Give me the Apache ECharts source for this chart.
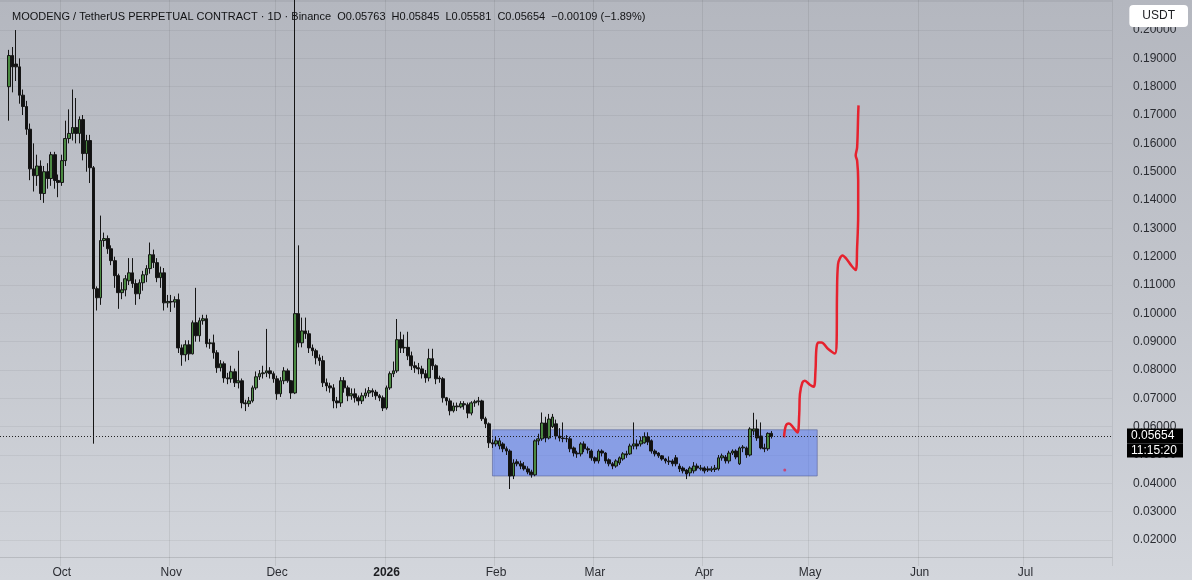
<!DOCTYPE html>
<html>
<head>
<meta charset="utf-8">
<script src="https://cdn.jsdelivr.net/npm/echarts@6/dist/echarts.min.js"></script>
<style>
  html, body { margin: 0; padding: 0; background: #fff; }
  #chart { width: 1192px; height: 580px; background: linear-gradient(180deg, #b4b7bf 0%, #c2c5cc 50%, #d3d6dc 100%); }
</style>
</head>
<body>
<div id="chart"></div>
<script>
// MOODENG / USDT 日线
var firstDay = '2025-09-14';     // 横轴第一天
var dayCount = 315;              // 到 2026-07-25
var firstCandle = 2;             // 2025-09-16

var tickDates = ['2025-10-01', '2025-11-01', '2025-12-01', '2026-01-01', '2026-02-01',
  '2026-03-01', '2026-04-01', '2026-05-01', '2026-06-01', '2026-07-01'];
var tickLabels = ['Oct', 'Nov', 'Dec', '2026', 'Feb', 'Mar', 'Apr', 'May', 'Jun', 'Jul'];

// [open, close, low, high]
var ohlc = [
  [0.180, 0.191, 0.168, 0.193], [0.191, 0.187, 0.178, 0.194], [0.188, 0.187, 0.182, 0.200],
  [0.187, 0.177, 0.174, 0.190], [0.177, 0.173, 0.170, 0.179], [0.173, 0.165, 0.163, 0.175],
  [0.165, 0.151, 0.147, 0.167], [0.151, 0.1486, 0.143, 0.160], [0.1486, 0.152, 0.145, 0.156],
  [0.152, 0.1423, 0.140, 0.154], [0.1423, 0.150, 0.139, 0.152], [0.150, 0.1476, 0.144, 0.153],
  [0.1476, 0.156, 0.145, 0.157], [0.156, 0.1469, 0.144, 0.157], [0.1469, 0.1462, 0.141, 0.149],
  [0.1462, 0.1539, 0.145, 0.156], [0.1539, 0.1617, 0.152, 0.168], [0.1617, 0.1635, 0.160, 0.172],
  [0.1635, 0.1656, 0.161, 0.179], [0.1656, 0.1635, 0.160, 0.176], [0.1635, 0.1684, 0.160, 0.1695],
  [0.1684, 0.1564, 0.154, 0.170], [0.1564, 0.161, 0.150, 0.163], [0.161, 0.1514, 0.146, 0.163],
  [0.1514, 0.1087, 0.054, 0.152],
  [0.1087, 0.1055, 0.101, 0.1095], [0.1055, 0.1257, 0.103, 0.1345], [0.1257, 0.1264, 0.1235, 0.1285],
  [0.1264, 0.1228, 0.121, 0.1275], [0.1228, 0.1186, 0.117, 0.124], [0.1186, 0.1133, 0.109, 0.120],
  [0.1133, 0.1073, 0.1016, 0.114], [0.1073, 0.1083, 0.105, 0.111], [0.1083, 0.1122, 0.106, 0.1135],
  [0.1115, 0.1143, 0.110, 0.1195], [0.1143, 0.1105, 0.109, 0.1195], [0.1105, 0.1069, 0.103, 0.112],
  [0.1069, 0.1108, 0.105, 0.112], [0.1108, 0.1136, 0.108, 0.115], [0.1136, 0.1158, 0.111, 0.117],
  [0.1158, 0.1207, 0.114, 0.125], [0.1207, 0.1179, 0.116, 0.1225], [0.1179, 0.1126, 0.111, 0.1195],
  [0.1126, 0.1143, 0.109, 0.1165], [0.1143, 0.1037, 0.101, 0.116], [0.1037, 0.1042, 0.102, 0.1065],
  [0.1042, 0.1040, 0.1005, 0.1065], [0.1040, 0.1048, 0.102, 0.106], [0.1048, 0.0878, 0.086, 0.107],
  [0.0878, 0.0854, 0.0815, 0.089], [0.0854, 0.0889, 0.083, 0.0905], [0.0889, 0.0857, 0.0835, 0.0905],
  [0.0857, 0.0967, 0.0855, 0.0975], [0.0967, 0.0921, 0.090, 0.109], [0.0921, 0.0974, 0.090, 0.0985],
  [0.0974, 0.0981, 0.096, 0.0995], [0.0981, 0.0893, 0.088, 0.0995], [0.0893, 0.0896, 0.0875, 0.091],
  [0.0896, 0.0861, 0.084, 0.0925], [0.0861, 0.0808, 0.079, 0.087], [0.0808, 0.0822, 0.0795, 0.0835],
  [0.0822, 0.0772, 0.0755, 0.083], [0.0772, 0.0769, 0.075, 0.079], [0.0769, 0.0794, 0.0755, 0.0815],
  [0.0794, 0.0755, 0.074, 0.0805], [0.0755, 0.0762, 0.0735, 0.0868], [0.0762, 0.0684, 0.0665, 0.077],
  [0.0684, 0.0681, 0.0655, 0.0695], [0.0681, 0.0691, 0.067, 0.0705], [0.0691, 0.0737, 0.0685, 0.0745],
  [0.0737, 0.0776, 0.073, 0.0795], [0.0776, 0.0787, 0.0765, 0.080], [0.0787, 0.0790, 0.077, 0.0815],
  [0.0790, 0.0797, 0.0775, 0.0945], [0.0797, 0.0787, 0.077, 0.081], [0.0787, 0.0769, 0.0755, 0.0795],
  [0.0769, 0.0716, 0.0695, 0.078], [0.0716, 0.0762, 0.0705, 0.0775], [0.0762, 0.0797, 0.075, 0.081],
  [0.0797, 0.0762, 0.0755, 0.0805], [0.0762, 0.0719, 0.0698, 0.0765], [0.0719, 0.0999, 0.0715, 0.26],
  [0.0999, 0.0896, 0.088, 0.124], [0.0896, 0.0938, 0.088, 0.0985], [0.0938, 0.0928, 0.091, 0.0985],
  [0.0928, 0.0878, 0.086, 0.094], [0.0878, 0.0868, 0.085, 0.089], [0.0868, 0.0843, 0.082, 0.0875],
  [0.0843, 0.0833, 0.0815, 0.0855], [0.0833, 0.0755, 0.074, 0.085], [0.0755, 0.0744, 0.0725, 0.077],
  [0.0744, 0.0737, 0.072, 0.0755], [0.0737, 0.0691, 0.0665, 0.075], [0.0691, 0.0684, 0.0665, 0.0705],
  [0.0684, 0.0762, 0.067, 0.0775], [0.0762, 0.0737, 0.072, 0.0775], [0.0737, 0.0709, 0.069, 0.0745],
  [0.0709, 0.0716, 0.0695, 0.0735], [0.0716, 0.0702, 0.0685, 0.0735], [0.0702, 0.0691, 0.0675, 0.071],
  [0.0691, 0.0709, 0.068, 0.072], [0.0709, 0.0719, 0.070, 0.0735], [0.0719, 0.0727, 0.0705, 0.074],
  [0.0727, 0.0722, 0.0705, 0.0735], [0.0722, 0.0709, 0.0695, 0.073], [0.0709, 0.0702, 0.069, 0.0715],
  [0.0702, 0.0666, 0.0655, 0.071], [0.0666, 0.0737, 0.066, 0.0745], [0.0737, 0.0787, 0.073, 0.0795],
  [0.0787, 0.0797, 0.0775, 0.083], [0.0797, 0.0907, 0.079, 0.098], [0.0907, 0.0878, 0.086, 0.0935],
  [0.0878, 0.0880, 0.086, 0.0925], [0.0880, 0.0850, 0.0835, 0.0935], [0.0850, 0.0815, 0.080, 0.0865],
  [0.0815, 0.0808, 0.079, 0.083], [0.0808, 0.0804, 0.0785, 0.0825], [0.0804, 0.0787, 0.077, 0.0815],
  [0.0787, 0.0772, 0.0755, 0.080], [0.0772, 0.0840, 0.076, 0.0875], [0.0840, 0.0815, 0.080, 0.0875],
  [0.0815, 0.0769, 0.075, 0.082], [0.0772, 0.0769, 0.0755, 0.078], [0.0769, 0.0702, 0.0685, 0.0775],
  [0.0702, 0.0691, 0.0675, 0.0705], [0.0691, 0.0656, 0.064, 0.070], [0.0656, 0.0673, 0.065, 0.0685],
  [0.0673, 0.0670, 0.0655, 0.0685], [0.0670, 0.0681, 0.0665, 0.069], [0.0681, 0.0677, 0.066, 0.069],
  [0.0677, 0.0648, 0.063, 0.0685], [0.0648, 0.0684, 0.064, 0.069], [0.0684, 0.0688, 0.067, 0.0695],
  [0.0688, 0.0691, 0.0675, 0.0705], [0.0691, 0.0628, 0.062, 0.0695], [0.0628, 0.0610, 0.0595, 0.0635],
  [0.0610, 0.0543, 0.0525, 0.0615], [0.0543, 0.0539, 0.0525, 0.0555], [0.0539, 0.0550, 0.053, 0.0565],
  [0.0532, 0.0550, 0.052, 0.056], [0.0539, 0.0522, 0.051, 0.0545], [0.0522, 0.0514, 0.050, 0.053],
  [0.0514, 0.0426, 0.038, 0.052],
  [0.0426, 0.0472, 0.0415, 0.0485], [0.0476, 0.0469, 0.046, 0.0485], [0.0469, 0.0461, 0.045, 0.048],
  [0.0461, 0.0451, 0.0445, 0.0475], [0.0451, 0.0440, 0.0432, 0.046], [0.0440, 0.0430, 0.042, 0.0448],
  [0.0430, 0.0550, 0.0425, 0.0555], [0.0550, 0.0557, 0.0535, 0.0575], [0.0557, 0.0613, 0.055, 0.065],
  [0.0613, 0.0560, 0.0545, 0.0635], [0.0560, 0.0627, 0.0555, 0.0645], [0.0600, 0.0634, 0.0595, 0.0645],
  [0.0610, 0.0567, 0.0555, 0.0625], [0.0567, 0.0560, 0.0548, 0.0595], [0.0560, 0.0558, 0.0545, 0.0615],
  [0.0558, 0.0557, 0.0545, 0.057], [0.0557, 0.0522, 0.051, 0.0565], [0.0525, 0.0507, 0.0495, 0.053],
  [0.0507, 0.0504, 0.049, 0.0515], [0.0504, 0.0539, 0.0495, 0.0545], [0.0539, 0.0522, 0.051, 0.0548],
  [0.0522, 0.0518, 0.0505, 0.053], [0.0514, 0.0490, 0.048, 0.052], [0.0490, 0.0479, 0.047, 0.0495],
  [0.0479, 0.0514, 0.047, 0.052], [0.0514, 0.0507, 0.0495, 0.052], [0.0507, 0.0479, 0.047, 0.051],
  [0.0483, 0.0469, 0.046, 0.0488], [0.0469, 0.0461, 0.045, 0.0475], [0.0461, 0.0479, 0.0455, 0.0485],
  [0.0472, 0.0490, 0.0465, 0.0495], [0.0486, 0.0504, 0.048, 0.051], [0.0504, 0.0500, 0.049, 0.0515],
  [0.0504, 0.0532, 0.050, 0.054], [0.0532, 0.0539, 0.052, 0.0615], [0.0539, 0.0532, 0.052, 0.0555],
  [0.0539, 0.0550, 0.053, 0.0565], [0.0543, 0.0564, 0.054, 0.058], [0.0564, 0.0546, 0.0535, 0.058],
  [0.0550, 0.0514, 0.0505, 0.0555], [0.0514, 0.0504, 0.0495, 0.052], [0.0507, 0.0497, 0.049, 0.051],
  [0.0497, 0.0486, 0.048, 0.050], [0.0486, 0.0479, 0.047, 0.049], [0.0479, 0.0476, 0.0465, 0.0495],
  [0.0479, 0.0469, 0.046, 0.0485], [0.0490, 0.0469, 0.046, 0.050], [0.0461, 0.0451, 0.044, 0.047],
  [0.0454, 0.0444, 0.0435, 0.046], [0.0447, 0.0433, 0.0415, 0.045], [0.0437, 0.0454, 0.0425, 0.046],
  [0.0444, 0.0461, 0.0435, 0.0475], [0.0461, 0.0454, 0.0445, 0.047], [0.0451, 0.0454, 0.0445, 0.0465],
  [0.0454, 0.0444, 0.0435, 0.046], [0.0451, 0.0447, 0.044, 0.046], [0.0447, 0.0451, 0.044, 0.046],
  [0.0449, 0.0454, 0.044, 0.0465], [0.0451, 0.0490, 0.0445, 0.050], [0.0490, 0.0497, 0.048, 0.0505],
  [0.0493, 0.0479, 0.047, 0.050], [0.0479, 0.0507, 0.047, 0.0515], [0.0507, 0.0514, 0.050, 0.052],
  [0.0514, 0.0493, 0.0485, 0.052], [0.0469, 0.0525, 0.0465, 0.053], [0.0525, 0.0528, 0.051, 0.0535],
  [0.0525, 0.0500, 0.049, 0.053], [0.0500, 0.0592, 0.0495, 0.0598], [0.0585, 0.0592, 0.057, 0.0649],
  [0.0592, 0.0560, 0.055, 0.0625], [0.0567, 0.0525, 0.052, 0.0615], [0.0525, 0.0522, 0.051, 0.054],
  [0.0522, 0.05763, 0.0515, 0.058], [0.05763, 0.05654, 0.05581, 0.05845]
];

// 蓝色区间
var boxFrom = '2026-01-31', boxTo = '2026-05-03';
var boxTop = 0.0589, boxBottom = 0.0426;

// 红色手绘预测线 (天数从 firstDay 起算, 价格)
var projDay = [221.6, 222.1, 223.0, 224.2, 225.4, 225.9, 226.1, 226.8, 227.5, 228.9, 230.0, 230.5,
  230.8, 231.4, 232.2, 234.1, 236.0, 236.5, 236.6, 236.9, 238.2, 239.3, 240.7, 241.9, 242.3,
  242.6, 242.6, 242.3, 241.9, 242.3, 242.6, 242.7];
var projPrice = [0.0562, 0.0603, 0.0611, 0.0597, 0.0579, 0.0644, 0.0715, 0.0756, 0.0762, 0.0748,
  0.0741, 0.0797, 0.0880, 0.0897, 0.0897, 0.0874, 0.0858, 0.0903, 0.1068, 0.1174, 0.1204, 0.1192,
  0.1168, 0.1153, 0.1233, 0.1351, 0.1469, 0.1539, 0.1557, 0.1586, 0.1704, 0.1734];
var strayDot = [221.8, 0.0447];

var countdown = '11:15:20';

// 日期分类
var days = [];
var t0 = Date.parse(firstDay + 'T00:00:00Z');
for (var i = 0; i < dayCount; i++) {
  days.push(new Date(t0 + i * 86400000).toISOString().slice(0, 10));
}

var candles = [];
for (var j = 0; j < ohlc.length; j++) {
  candles.push([firstCandle + j].concat(ohlc[j]));
}

var last = ohlc[ohlc.length - 1];
var chg = last[1] - last[0];
var header = 'MOODENG / TetherUS PERPETUAL CONTRACT · 1D · Binance  O' + last[0].toFixed(5) +
  '  H' + last[3].toFixed(5) + '  L' + last[2].toFixed(5) + '  C' + last[1].toFixed(5) +
  '  \u2212' + Math.abs(chg).toFixed(5) + ' (\u2212' + Math.abs(chg / last[0] * 100).toFixed(2) + '%)';

var proj = projDay.map(function (d, k) { return [d, projPrice[k]]; });

var font = 'Liberation Sans, Arial, sans-serif';
var isTick = function (idx, val) { return tickDates.indexOf(val) >= 0; };

var chart = echarts.init(document.getElementById('chart'));
chart.setOption({
  animation: false,
  backgroundColor: 'transparent',
  textStyle: { fontFamily: font },
  title: [{
    text: header, left: 12, top: 11, padding: 0,
    textStyle: { fontSize: 11, fontWeight: 'normal', color: '#111214', fontFamily: font }
  }, {
    text: 'USDT', right: 4, top: 5, padding: [5, 13, 5, 13],
    backgroundColor: '#fff', borderRadius: 4,
    textStyle: { fontSize: 12, fontWeight: 'normal', color: '#1d1e22', fontFamily: font }
  }],
  grid: { left: 0, right: 80, top: 0, bottom: 23 },
  xAxis: [{
    type: 'category', data: days, boundaryGap: true,
    axisLine: { show: true, lineStyle: { color: 'rgba(0,0,0,0.08)' } },
    axisTick: { show: true, interval: isTick, length: 9, lineStyle: { color: 'rgba(0,0,0,0.08)' } },
    axisLabel: {
      interval: isTick, margin: 10, fontSize: 12, color: '#2b2d33',
      formatter: function (v) {
        var l = tickLabels[tickDates.indexOf(v)];
        return l === '2026' ? '{b|' + l + '}' : l;
      },
      rich: { b: { fontWeight: 'bold', fontSize: 12, color: '#1d1e22' } }
    },
    splitLine: { show: true, interval: isTick, lineStyle: { color: 'rgba(0,0,0,0.07)', width: 1 } }
  }, {
    type: 'value', min: -0.5, max: dayCount - 0.5, show: false
  }],
  yAxis: {
    type: 'value', position: 'right', min: 0.0140, max: 0.2106,
    minInterval: 0.01, maxInterval: 0.01, splitNumber: 20, scale: true,
    axisLine: { show: false }, axisTick: { show: false },
    axisLabel: {
      margin: 21, fontSize: 12, color: '#2b2d33', showMinLabel: false, showMaxLabel: false,
      formatter: function (v) { return v > 0.205 ? '' : v.toFixed(5); }
    },
    splitLine: { lineStyle: { color: 'rgba(0,0,0,0.05)' } }
  },
  series: [{
    type: 'candlestick',
    data: candles,
    encode: { x: 0, y: [1, 2, 3, 4] },
    barWidth: 3.2,
    itemStyle: {
      color: '#4b8a42', color0: '#111',
      borderColor: '#151515', borderColor0: '#151515', borderWidth: 1
    },
    markArea: {
      silent: true,
      itemStyle: { color: 'rgba(70,110,245,0.5)', borderColor: 'rgba(90,100,150,0.6)', borderWidth: 1 },
      data: [[{ xAxis: boxFrom, yAxis: boxTop }, { xAxis: boxTo, yAxis: boxBottom }]]
    },
    markLine: {
      silent: true, symbol: ['none', 'none'], precision: 5,
      lineStyle: { type: [1, 2], color: '#222', width: 1 },
      label: {
        show: true, position: 'end', distance: 15,
        formatter: '{g|}\n{p|' + last[1].toFixed(5) + '}\n{t|' + countdown + '}',
        rich: {
          g: { height: 13 },
          p: { backgroundColor: '#000', color: '#fff', fontSize: 12, width: 48, height: 15, lineHeight: 15, padding: [0, 4] },
          t: { backgroundColor: '#000', color: '#fff', fontSize: 12, width: 48, height: 14, lineHeight: 14, padding: [0, 4] }
        }
      },
      data: [{ yAxis: last[1] }]
    }
  }, {
    type: 'line', xAxisIndex: 1, data: proj, smooth: 0.35, showSymbol: false,
    lineStyle: { color: '#e6222e', width: 2.5 }
  }, {
    type: 'scatter', xAxisIndex: 1, data: [strayDot], symbolSize: 3,
    itemStyle: { color: '#d8305a' }
  }]
});
</script>
</body>
</html>
